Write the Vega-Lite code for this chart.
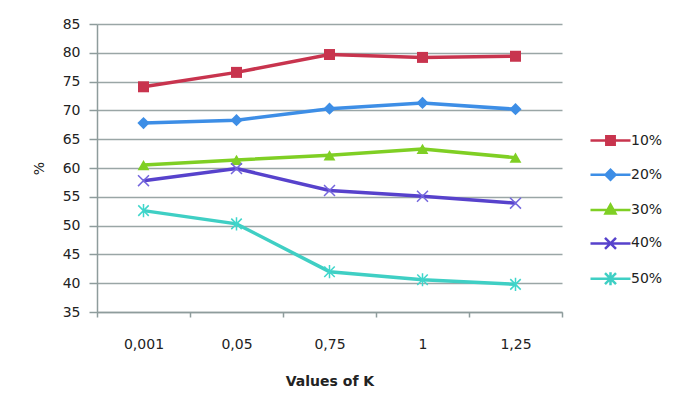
{
  "$schema": "https://vega.github.io/schema/vega-lite/v6.json",
  "autosize": "none",
  "width": 465,
  "height": 288,
  "padding": {"left": 97, "top": 24, "right": 123, "bottom": 103},
  "background": "white",
  "config": {
    "font": "DejaVu Sans",
    "view": {"stroke": null},
    "axis": {"labelFont": "DejaVu Sans", "titleFont": "DejaVu Sans", "labelColor": "#222", "titleColor": "#222", "domainColor": "#8E9C9C", "tickColor": "#8E9C9C", "gridColor": "#9AA6A6", "domainWidth": 1.5, "tickWidth": 1.5, "gridWidth": 1.5}
  },
  "data": {
    "values": [
      {"k": "0,001", "series": "10%", "v": 74.1},
      {"k": "0,05", "series": "10%", "v": 76.6},
      {"k": "0,75", "series": "10%", "v": 79.7},
      {"k": "1", "series": "10%", "v": 79.2},
      {"k": "1,25", "series": "10%", "v": 79.4},
      {"k": "0,001", "series": "20%", "v": 67.8},
      {"k": "0,05", "series": "20%", "v": 68.3},
      {"k": "0,75", "series": "20%", "v": 70.3},
      {"k": "1", "series": "20%", "v": 71.3},
      {"k": "1,25", "series": "20%", "v": 70.2},
      {"k": "0,001", "series": "30%", "v": 60.5},
      {"k": "0,05", "series": "30%", "v": 61.4},
      {"k": "0,75", "series": "30%", "v": 62.2},
      {"k": "1", "series": "30%", "v": 63.3},
      {"k": "1,25", "series": "30%", "v": 61.8},
      {"k": "0,001", "series": "40%", "v": 57.8},
      {"k": "0,05", "series": "40%", "v": 59.9},
      {"k": "0,75", "series": "40%", "v": 56.1},
      {"k": "1", "series": "40%", "v": 55.1},
      {"k": "1,25", "series": "40%", "v": 53.9},
      {"k": "0,001", "series": "50%", "v": 52.6},
      {"k": "0,05", "series": "50%", "v": 50.3},
      {"k": "0,75", "series": "50%", "v": 42.0},
      {"k": "1", "series": "50%", "v": 40.6},
      {"k": "1,25", "series": "50%", "v": 39.8}
    ]
  },
  "encoding": {
    "x": {
      "field": "k", "type": "nominal", "sort": null, "bandPosition": 0.5,
      "scale": {"type": "band", "paddingInner": 0, "paddingOuter": 0},
      "axis": {"title": "Values of K", "labelAngle": 0, "labelFontSize": 14, "titleFontSize": 14, "titleFontWeight": "bold", "tickBand": "extent", "tickSize": 5, "labelPadding": 20, "titlePadding": 23, "grid": false}
    },
    "y": {
      "field": "v", "type": "quantitative",
      "scale": {"domain": [35, 85], "nice": false, "zero": false},
      "axis": {"title": "%", "titleAngle": -90, "titleFontWeight": "normal", "titleFontSize": 14, "labelFontSize": 14, "values": [35,40,45,50,55,60,65,70,75,80,85], "tickSize": 8, "labelPadding": 9, "titlePadding": 16, "grid": true}
    }
  },
  "layer": [
    {
      "mark": {"type": "line", "strokeWidth": 3.5},
      "encoding": {
        "color": {
          "field": "series", "type": "nominal",
          "scale": {"domain": ["10%","20%","30%","40%","50%"], "range": ["#C8344E","#3D8EE6","#7FCF24","#5742CC","#3FCFC4"]},
          "legend": {
            "title": null, "orient": "none", "legendX": 502, "legendY": 105, "padding": 0,
            "symbolSize": 400, "symbolStrokeWidth": 2.5, "labelFontSize": 14, "labelOffset": 9, "rowPadding": 13.3, "labelColor": "#222",
            "encode": {
              "symbols": {
                "update": {
                  "shape": {"signal": "datum.value === '10%' ? 'M-2,0H2M-0.42,-0.42H0.42V0.42H-0.42Z' : datum.value === '20%' ? 'M-2,0H2M-0.5,0L0,-0.5L0.5,0L0,0.5Z' : datum.value === '30%' ? 'M-2,0H2M0,-0.55L0.5,0.35L-0.5,0.35Z' : datum.value === '40%' ? 'M-2,0H2M-0.55,-0.55L0.55,0.55M-0.55,0.55L0.55,-0.55' : 'M-2,0H2M-0.55,-0.55L0.55,0.55M-0.55,0.55L0.55,-0.55M0,-0.65V0.65'"},
                  "fill": [{"test": "datum.value === '40%' || datum.value === '50%'", "value": "transparent"}, {"scale": "color", "field": "value"}],
                  "stroke": {"scale": "color", "field": "value"},
                  "opacity": {"value": 1}
                }
              }
            }
          }
        }
      }
    },
    {
      "transform": [{"filter": "datum.series === '10%'"}],
      "mark": {"type": "point", "shape": "square", "filled": true, "opacity": 1, "size": 121, "color": "#C8344E"}
    },
    {
      "transform": [{"filter": "datum.series === '20%'"}],
      "mark": {"type": "point", "shape": "diamond", "filled": true, "opacity": 1, "size": 150, "color": "#3D8EE6"}
    },
    {
      "transform": [{"filter": "datum.series === '30%'"}],
      "mark": {"type": "point", "shape": "triangle-up", "filled": true, "opacity": 1, "size": 140, "color": "#7FCF24"}
    },
    {
      "transform": [{"filter": "datum.series === '40%'"}],
      "mark": {"type": "point", "shape": "M-1,-1L1,1M-1,1L1,-1", "filled": false, "opacity": 1, "size": 120, "strokeWidth": 1.5, "color": "#7466DD"}
    },
    {
      "transform": [{"filter": "datum.series === '50%'"}],
      "mark": {"type": "point", "shape": "M-1,-1L1,1M-1,1L1,-1M0,-1.25V1.25", "filled": false, "opacity": 1, "size": 110, "strokeWidth": 1.5, "color": "#3FD6CB"}
    }
  ]
}
